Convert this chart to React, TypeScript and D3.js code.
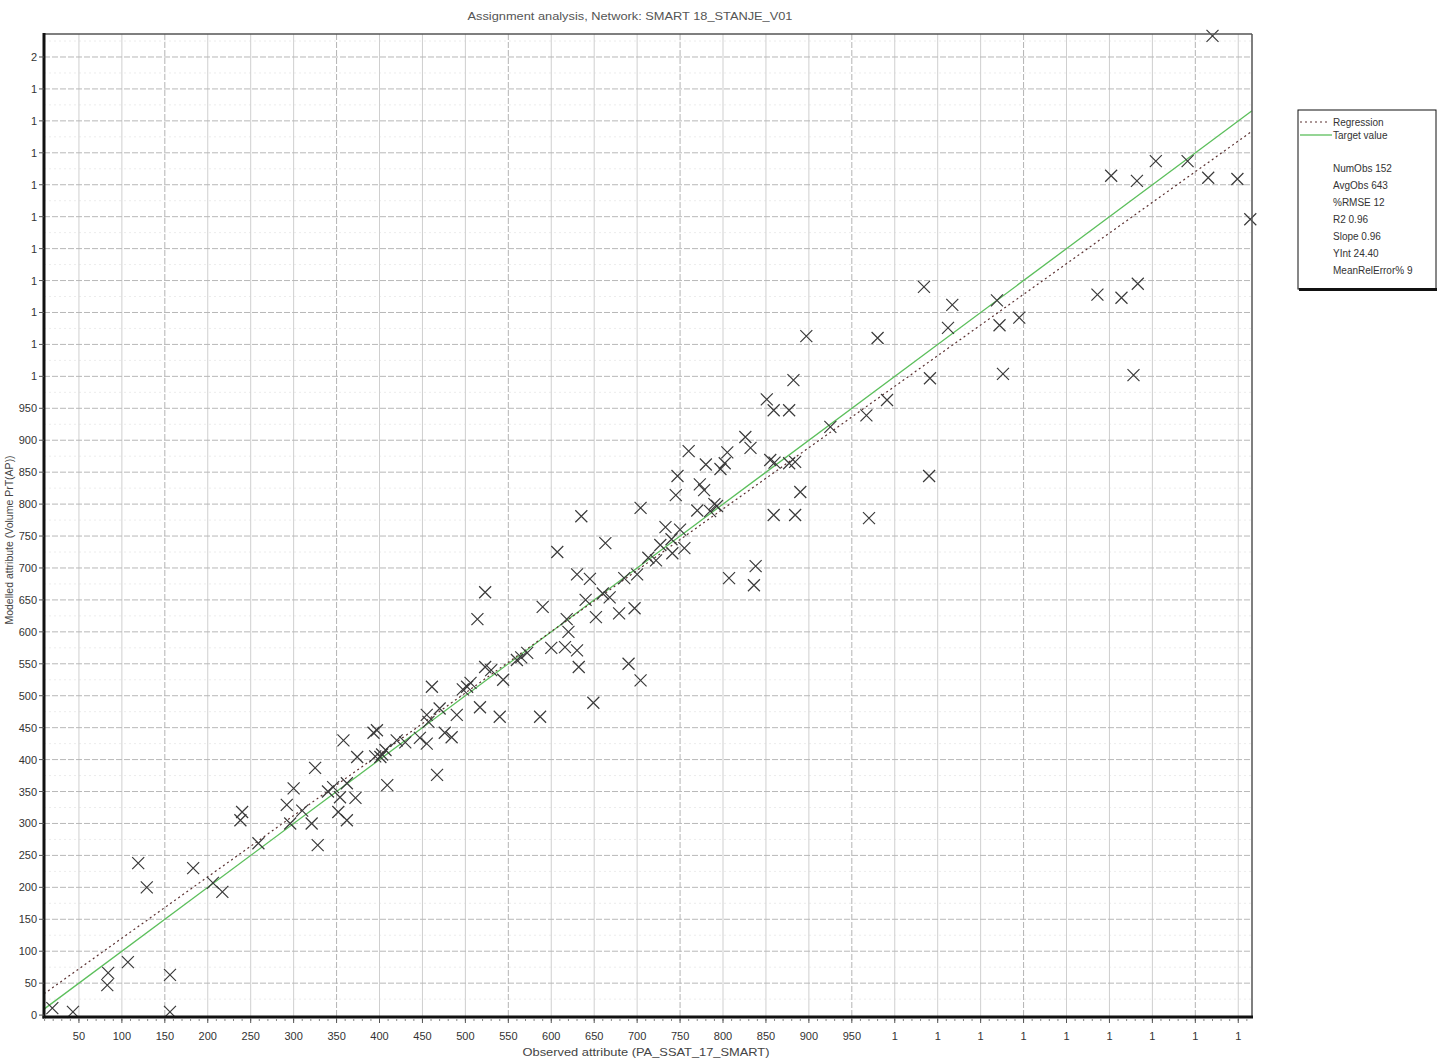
import React from "react";
import * as d3 from "d3";

const observed = [
  19, 43, 84, 83, 107, 119, 129, 156, 156, 183, 206, 217, 259, 240, 238, 300, 292, 296, 325, 321,
  328, 346, 354, 352, 362, 362, 372, 358, 374, 397, 393, 401, 407, 409, 430, 455, 461, 457, 447, 455,
  467, 476, 484, 490, 502, 506, 517, 523, 544, 540, 560, 572, 587, 523, 514, 310, 403, 395, 340, 420,
  470, 497, 530, 590, 607, 618, 616, 630, 630, 632, 635, 645, 649, 652, 663, 668, 679, 685, 690, 697,
  704, 704, 713, 722, 727, 733, 741, 745, 747, 760, 755, 773, 778, 780, 785, 793, 797, 805, 802, 807,
  826, 832, 836, 838, 851, 859, 855, 859, 877, 882, 877, 884, 890, 884, 897, 925, 967, 970, 980, 991,
  1034, 1041, 1040, 1062, 1067, 1119, 1122, 1126, 1145, 1236, 1264, 1283, 1278, 1252, 1282, 1304, 1341, 1365, 1399, 1414,
  1370, 600, 620, 660, 700, 750, 790, 770, 740, 860, 640, 565,
];
const modelled = [
  11, 5, 66, 47, 83, 238, 200, 63, 5, 230, 207, 193, 269, 318, 305, 355, 329, 300, 387, 300,
  266, 357, 341, 318, 305, 363, 340, 430, 404, 446, 442, 404, 415, 360, 427, 470, 514, 459, 434, 425,
  376, 442, 435, 470, 514, 520, 482, 545, 525, 467, 556, 567, 467, 662, 620, 320, 408, 405, 350, 430,
  480, 510, 540, 639, 725, 620, 576, 690, 571, 545, 781, 683, 489, 623, 739, 654, 629, 684, 550, 637,
  794, 524, 716, 712, 736, 764, 723, 814, 844, 883, 731, 831, 822, 862, 789, 797, 855, 881, 864, 684,
  905, 888, 673, 703, 964, 947, 869, 783, 947, 994, 864, 783, 819, 866, 1063, 921, 939, 778, 1060, 963,
  1140, 997, 844, 1076, 1112, 1119, 1080, 1004, 1092, 1128, 1123, 1145, 1002, 1314, 1306, 1337, 1337, 1311, 1309, 1246,
  1533, 575, 600, 660, 690, 760, 800, 790, 745, 865, 650, 560,
];

const xTicks = d3.range(50, 1401, 50);
const yTicks = d3.range(0, 1501, 50);
const xMinorTicks = d3.range(10, 1411, 10);

const legendLines = ["Regression", "Target value"];
const statLabels = ["NumObs 152", "AvgObs 643", "%RMSE 12", "R2 0.96", "Slope 0.96", "YInt 24.40", "MeanRelError% 9"];
const regSlope = 0.96;
const regIntercept = 24.4;

const titleText = "Assignment analysis, Network: SMART 18_STANJE_V01";
const xLabel = "Observed attribute (PA_SSAT_17_SMART)";
const yLabel = "Modelled attribute (Volume PrT(AP))";

const W = 1439;
const H = 1062;
const L = 44, R = 1252, T = 34, B = 1017;

const fmt = (v: number) => (v >= 1000 ? String(Math.round(v / 1000)) : String(v));

export default function App() {
  const x = d3.scaleLinear().domain([9.3, 1416]).range([L, R]);
  const y = d3.scaleLinear().domain([-3, 1536]).range([B, T]);
  const [x0, x1] = x.domain();
  const line = d3.line<[number, number]>().x((d) => x(d[0])).y((d) => y(d[1]));
  const targetPts: [number, number][] = [[x0, x0], [x1, x1]];
  const regPts: [number, number][] = [[x0, regSlope * x0 + regIntercept], [x1, regSlope * x1 + regIntercept]];
  const pts = observed.map((o, i) => [o, modelled[i]] as [number, number]);
  const font = "'Liberation Sans', Arial, sans-serif";
  const s = 6;

  return (
    <div style={{ position: "absolute", left: 0, top: 0 }}>
      <svg width={W} height={H} style={{ display: "block", background: "#fff" }} fontFamily={font}>
        <rect x={0} y={0} width={W} height={H} fill="#fff" />
        <text x={630} y={20} textAnchor="middle" fontSize={10.5} fill="#555" textLength={325} lengthAdjust="spacingAndGlyphs">
          {titleText}
        </text>
        {/* minor horizontal grid */}
        {yTicks.map((t) => (
          <line key={"ym" + t} x1={L} x2={R} y1={y(t + 25)} y2={y(t + 25)} stroke="#ececec" strokeDasharray="2,3" />
        ))}
        {/* vertical grid */}
        {xTicks.map((t) => (
          <line key={"vx" + t} x1={x(t)} x2={x(t)} y1={T} y2={B} stroke={t % 100 === 50 && t % 200 !== 50 ? "#b4b4b4" : "#cfcfcf"} strokeDasharray={t % 100 === 50 && t % 200 !== 50 ? "6,2" : undefined} />
        ))}
        {/* horizontal grid */}
        {yTicks.filter((t) => t > 0).map((t) => (
          <line key={"hy" + t} x1={L} x2={R} y1={y(t)} y2={y(t)} stroke="#b8b8b8" strokeDasharray="6,2" />
        ))}
        {/* lines */}
        <path d={line(targetPts) || ""} stroke="#5cbf5c" strokeWidth={1.3} fill="none" />
        <path d={line(regPts) || ""} stroke="#5a3030" strokeWidth={1.2} strokeDasharray="2,3" fill="none" />
        {/* points */}
        {pts.map((p, i) => (
          <path
            key={"p" + i}
            d={`M${x(p[0]) - s},${y(p[1]) - s}L${x(p[0]) + s},${y(p[1]) + s}M${x(p[0]) - s},${y(p[1]) + s}L${x(p[0]) + s},${y(p[1]) - s}`}
            stroke="#3a3a3a"
            strokeWidth={1.2}
            fill="none"
          />
        ))}
        {/* frame */}
        <line x1={L} x2={R} y1={T} y2={T} stroke="#555" strokeWidth={1.5} />
        <line x1={R} x2={R} y1={T} y2={B} stroke="#555" strokeWidth={1.5} />
        <line x1={L} x2={L} y1={T - 1} y2={B + 1.5} stroke="#111" strokeWidth={3} />
        <line x1={L - 1.5} x2={R + 1} y1={B} y2={B} stroke="#111" strokeWidth={3} />
        {/* x ticks */}
        {xMinorTicks.map((t) => (
          <line key={"xm" + t} x1={x(t)} x2={x(t)} y1={B + 1} y2={B + 4} stroke="#888" />
        ))}
        {xTicks.map((t) => (
          <g key={"xt" + t}>
            <line x1={x(t)} x2={x(t)} y1={B + 1} y2={B + 6} stroke="#555" />
            <text x={x(t)} y={1040} textAnchor="middle" fontSize={11} fill="#333">
              {fmt(t)}
            </text>
          </g>
        ))}
        {yTicks.map((t) => (
          <g key={"yt" + t}>
            <line x1={L - 5} x2={L} y1={y(t)} y2={y(t)} stroke="#555" />
            <text x={37} y={y(t) + 4} textAnchor="end" fontSize={11} fill="#333">
              {fmt(t)}
            </text>
          </g>
        ))}
        <text x={646} y={1056} textAnchor="middle" fontSize={10.5} fill="#444" textLength={247} lengthAdjust="spacingAndGlyphs">
          {xLabel}
        </text>
        <text transform="translate(13,540) rotate(-90)" textAnchor="middle" fontSize={10.5} fill="#444">
          {yLabel}
        </text>
        {/* legend */}
        <rect x={1298} y={110} width={138} height={179} fill="#fff" stroke="#111" strokeWidth={1} />
        <line x1={1299} x2={1437} y1={289.5} y2={289.5} stroke="#111" strokeWidth={3} />
        <line x1={1300} x2={1330} y1={122} y2={122} stroke="#5a3030" strokeWidth={1.2} strokeDasharray="2,3" />
        <line x1={1300} x2={1332} y1={135} y2={135} stroke="#5cbf5c" strokeWidth={1.3} />
        {legendLines.map((l, i) => (
          <text key={l} x={1333} y={126 + i * 13} fontSize={10} fill="#333">
            {l}
          </text>
        ))}
        {statLabels.map((l, i) => (
          <text key={l} x={1333} y={172 + i * 17} fontSize={10} fill="#333">
            {l}
          </text>
        ))}
      </svg>
    </div>
  );
}
